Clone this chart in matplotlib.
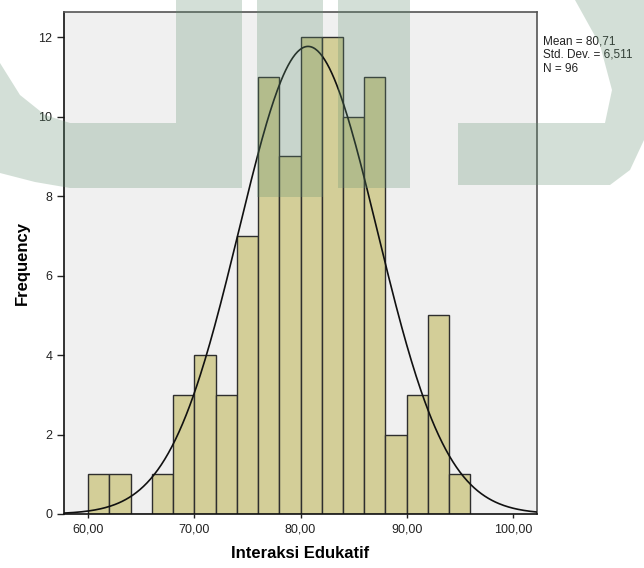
"""
Histogram Interaksi Edukatif with normal curve (SPSS style)
"""

import numpy as np
import matplotlib
matplotlib.use('Agg')
import matplotlib.pyplot as plt
from matplotlib.patches import Polygon

plt.rcParams['font.family'] = ['Liberation Sans', 'DejaVu Sans']

# data
bin_left = [60, 62, 64, 66, 68, 70, 72, 74, 76, 78, 80, 82, 84, 86, 88, 90, 92, 94]
bin_width = 2
counts = [1, 1, 0, 1, 3, 4, 3, 7, 11, 9, 12, 12, 10, 11, 2, 3, 5, 1]
mean_val = 80.71
std_val = 6.511
n_val = 96

x_ticks = [60, 70, 80, 90, 100]
x_tick_labels = ['60,00', '70,00', '80,00', '90,00', '100,00']
y_ticks = [0, 2, 4, 6, 8, 10, 12]

W, H = 644, 568
fig = plt.figure(figsize=(W / 100, H / 100), dpi=100)
fig.patch.set_facecolor('white')

ax = fig.add_axes([64 / W, 1 - 514 / H, 473 / W, 502 / H])
ax.set_facecolor('#F0F0F0')

ax.bar(bin_left, counts, width=bin_width, align='edge',
       color='#D3CE98', edgecolor='#2E2E2E', linewidth=1.0, zorder=2)

xs = np.linspace(57.74, 102.26, 400)
pdf = np.exp(-0.5 * ((xs - mean_val) / std_val) ** 2) / (std_val * np.sqrt(2 * np.pi))
ax.plot(xs, n_val * bin_width * pdf, color='#111111', linewidth=1.2, zorder=3)

ax.set_xlim(57.74, 102.26)
ax.set_ylim(0, 12.63)
ax.set_xticks(x_ticks)
ax.set_xticklabels(x_tick_labels)
ax.set_yticks(y_ticks)
ax.tick_params(axis='both', labelsize=9, colors='#222222', length=5, width=1)
ax.tick_params(axis='x', length=3)

for side in ['left', 'bottom']:
    ax.spines[side].set_color('#111111')
    ax.spines[side].set_linewidth(1.2)
for side in ['top', 'right']:
    ax.spines[side].set_color('#555555')
    ax.spines[side].set_linewidth(1.2)

ax.set_xlabel('Interaksi Edukatif', fontsize=12, fontweight='bold', labelpad=8)
ax.set_ylabel('Frequency', fontsize=12, fontweight='bold', labelpad=6)

fig.text(543 / W, 1 - 35 / H, 'Mean = 80,71\nStd. Dev. = 6,511\nN = 96',
         fontsize=8.5, va='top', ha='left', color='#222222', linespacing=1.2)

# faint green watermark in the background of the scanned page
def px(points):
    return [(x / W, 1 - y / H) for x, y in points]

wm_left = px([(0, 63), (20, 95), (45, 115), (70, 123), (176, 123), (176, 0), (242, 0),
              (242, 188), (70, 188), (35, 182), (0, 173)])
wm_bar1 = px([(257, 0), (323, 0), (323, 197), (257, 197)])
wm_bar2 = px([(338, 0), (410, 0), (410, 188), (338, 188)])
wm_right = px([(458, 123), (605, 123), (612, 90), (600, 45), (575, 0), (644, 0),
               (644, 140), (630, 170), (610, 185), (458, 185)])

for shape in [wm_left, wm_bar1, wm_bar2, wm_right]:
    fig.add_artist(Polygon(shape, closed=True, transform=fig.transFigure,
                           facecolor=(0.38, 0.56, 0.44), alpha=0.28,
                           edgecolor='none', zorder=10))

plt.savefig('out.png', dpi=100)
